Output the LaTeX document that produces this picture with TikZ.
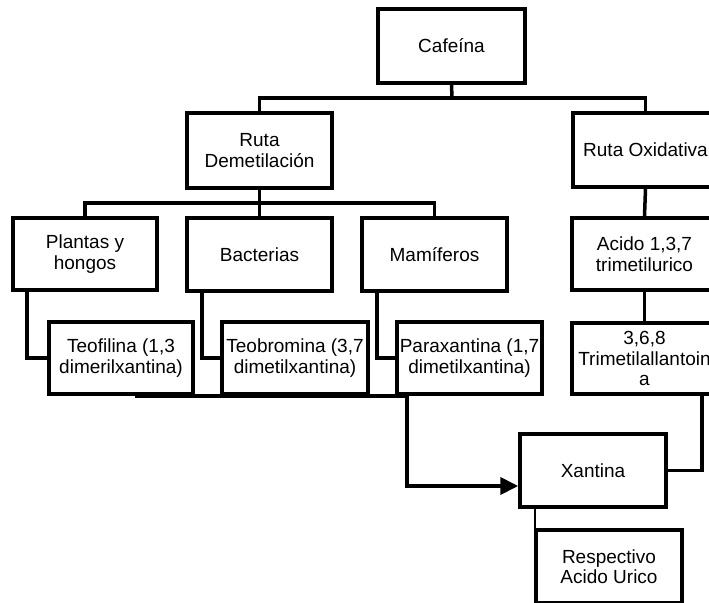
\documentclass[tikz,border=0pt]{standalone}
\usepackage{fontspec}
\setmainfont{Liberation Sans}
\usetikzlibrary{arrows.meta,calc}
\begin{document}
\begin{tikzpicture}[x=1pt,y=-1pt,
  bx/.style={draw, line width=3.5pt, minimum width=145pt, minimum height=73pt,
    align=center, inner sep=0pt, font=\fontsize{19}{20.5}\selectfont},
  ln/.style={line width=3.5pt}]
\useasboundingbox (0,0) rectangle (709,602);
\clip (0,0) rectangle (709,602);
% boxes
\node[bx, minimum width=147pt, minimum height=74pt] (caf) at (451.5,46) {Cafeína};
\node[bx, minimum height=75pt] (rd) at (259.5,150.5) {Ruta\\Demetilación};
\node[bx, minimum height=74pt] (ro) at (645.5,150) {Ruta Oxidativa};
\node[bx, minimum width=144pt, minimum height=72pt] (pl) at (85,254) {Plantas y\\hongos};
\node[bx] (ba) at (259.5,254.5) {Bacterias};
\node[bx] (ma) at (434.5,254.5) {Mamíferos};
\node[bx, minimum height=72pt] (ac) at (644.5,254) {Acido 1,3,7\\trimetilurico};
\node[bx, minimum width=144pt, minimum height=72pt] (teo) at (121,358) {Teofilina (1,3\\dimerilxantina)};
\node[bx, minimum width=146pt, minimum height=72pt] (teb) at (295,358) {Teobromina (3,7\\dimetilxantina)};
\node[bx, minimum height=72pt] (par) at (469.5,358) {Paraxantina (1,7\\dimetilxantina)};
\node[bx, minimum height=71pt] (tri) at (644.5,358.5) {3,6,8\\Trimetilallantoin\\a};
\node[bx, minimum width=146pt] (xan) at (593,470.5) {Xantina};
\node[bx, minimum width=146pt] (res) at (609,566.5) {Respectivo\\Acido Urico};
% junctions
\coordinate (j1) at (452,98);
\coordinate (j2) at (259.5,203);
\coordinate (m1) at (135,396);
\coordinate (m2) at (407,396);
% connectors
\draw[ln] (caf.south) -- (j1);
\draw[ln] (rd.north) |- (j1) -| (ro.north);
\draw[ln] (rd.south) -- (ba.north);
\draw[ln] (pl.north) |- (j2) -| (ma.north);
\draw[ln] ([xshift=-58pt]pl.south) |- (teo.west);
\draw[ln] ([xshift=-57.5pt]ba.south) |- (teb.west);
\draw[ln] ([xshift=-57.5pt]ma.south) |- (par.west);
\draw[ln] (ro.south) -- (ac.north);
\draw[ln] (ac.south) -- (tri.north);
\draw[ln] ([xshift=57.5pt]tri.south) |- (xan.east);
\draw[ln, line width=4pt, -{Triangle[length=18pt,width=17pt]}] (m1) -- (m2) |- ([yshift=-15.5pt]xan.west);
\draw[line width=2.5pt] ([xshift=-58pt]xan.south) |- (res.west);
\end{tikzpicture}
\end{document}
